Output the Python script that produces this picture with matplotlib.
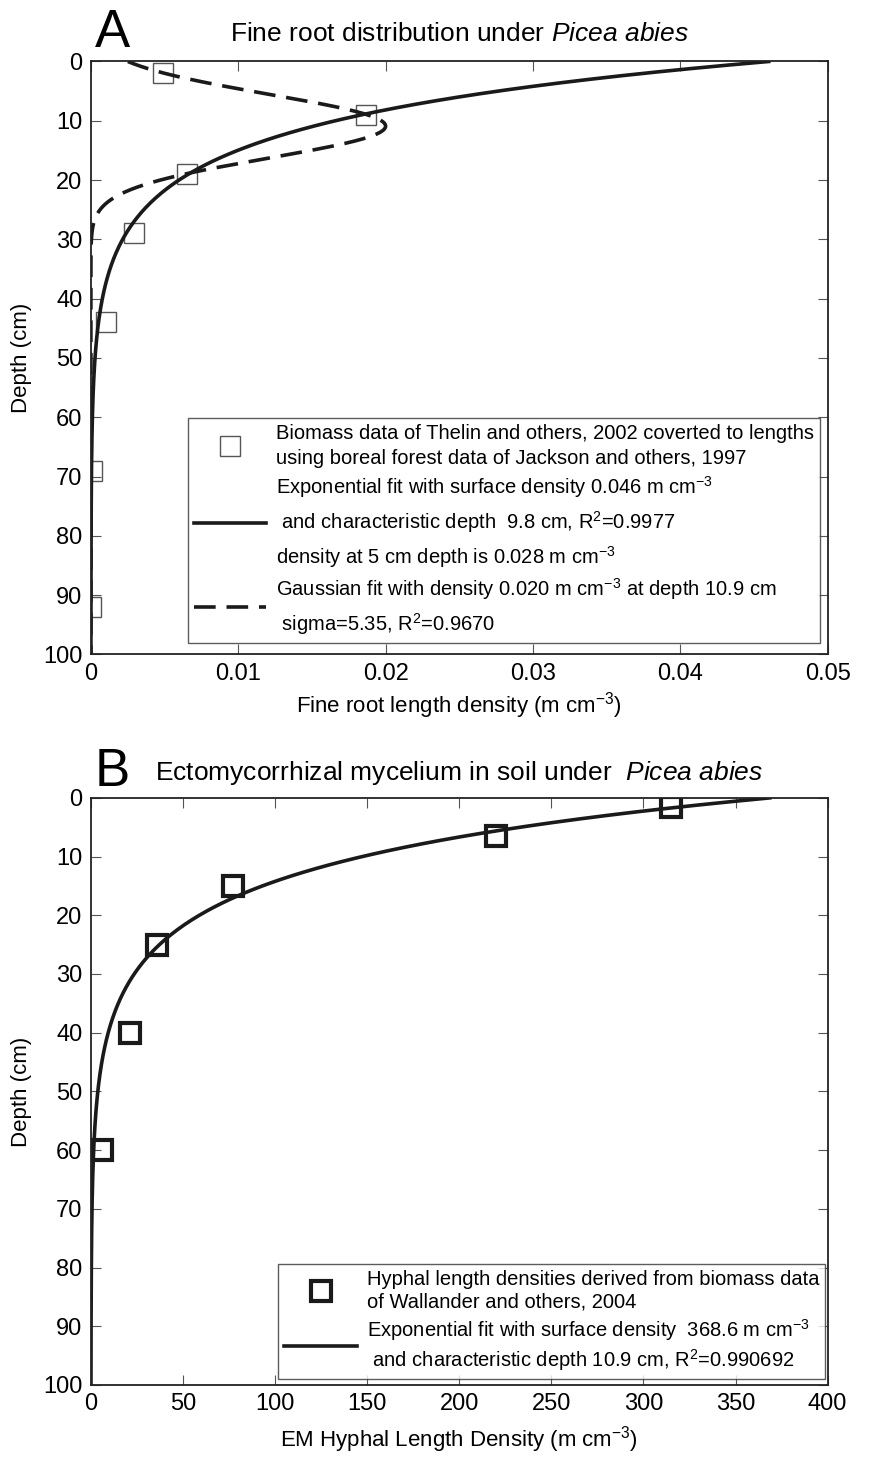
import numpy as np
import matplotlib
matplotlib.use("Agg")
import matplotlib.pyplot as plt

plt.rcParams['font.family'] = ['Liberation Sans', 'DejaVu Sans']
plt.rcParams['mathtext.fontset'] = 'custom'
plt.rcParams['mathtext.rm'] = 'Liberation Sans'
plt.rcParams['mathtext.it'] = 'Liberation Sans:italic'

# panel A data (fine roots)
rootDepth = [2, 9, 19, 29, 44, 69, 92]
rootDensity = [0.0049, 0.0187, 0.0065, 0.0029, 0.001, 0.0001, 0.0]
# fit parameters as printed in the legend
expSurface = 0.046
expDepth = 9.8
gaussPeak = 0.020
gaussDepth = 10.9
gaussSigma = 5.35

# panel B data (EM hyphae)
hyphDepth = [1.5, 6.5, 15, 25, 40, 60]
hyphDensity = [315, 220, 77, 36, 21, 6]
hyphSurface = 368.6
hyphCharDepth = 10.9

rootTicks = [0, 0.01, 0.02, 0.03, 0.04, 0.05]
rootTickLabels = ["0", "0.01", "0.02", "0.03", "0.04", "0.05"]
hyphTicks = [0, 50, 100, 150, 200, 250, 300, 350, 400]
depthTicks = [0, 10, 20, 30, 40, 50, 60, 70, 80, 90, 100]

z = np.linspace(0, 100, 500)

fig = plt.figure(figsize=(8.74, 14.64), dpi=100)

def setupAxes(ax):
    ax.set_ylim(100, 0)
    ax.set_yticks(depthTicks)
    ax.tick_params(direction='in', top=True, right=True, labelsize=17,
                   length=7, width=0.8, color='#555555', pad=6)
    for sp in ax.spines.values():
        sp.set_linewidth(1.3)
        sp.set_color('#222222')
    ax.set_ylabel("Depth (cm)", fontsize=16, labelpad=8)

# ---- panel A
ax1 = fig.add_axes([0.104, 0.553, 0.843, 0.405])
setupAxes(ax1)
ax1.plot(rootDensity, rootDepth, linestyle='none', marker='s', markersize=15,
         markerfacecolor='none', markeredgecolor='#555555', markeredgewidth=1.0,
         label="Biomass data of Thelin and others, 2002 coverted to lengths\n"
               "using boreal forest data of Jackson and others, 1997")
ax1.plot(expSurface * np.exp(-z / expDepth), z, color='#1a1a1a', lw=2.6,
         label="Exponential fit with surface density 0.046 m cm$^{-3}$\n"
               " and characteristic depth  9.8 cm, R$^{2}$=0.9977\n"
               "density at 5 cm depth is 0.028 m cm$^{-3}$")
ax1.plot(gaussPeak * np.exp(-(z - gaussDepth) ** 2 / (2 * gaussSigma ** 2)), z,
         color='#1a1a1a', lw=2.6, dashes=(6, 3),
         label="Gaussian fit with density 0.020 m cm$^{-3}$ at depth 10.9 cm\n"
               " sigma=5.35, R$^{2}$=0.9670")
ax1.set_xlim(0, 0.05)
ax1.set_xticks(rootTicks)
ax1.set_xticklabels(rootTickLabels)
ax1.set_xlabel("Fine root length density (m cm$^{-3}$)", fontsize=16, labelpad=4)
ax1.set_title("Fine root distribution under $\\it{Picea\\ abies}$", fontsize=19, pad=15)
fig.text(0.108, 0.968, "A", fontsize=38)
leg = ax1.legend(loc='lower right', bbox_to_anchor=(0.99, 0.02), fontsize=14.5,
                 frameon=True, fancybox=False, edgecolor='#333333', handlelength=3.6,
                 borderpad=0.3, labelspacing=0.3, handletextpad=0.5, borderaxespad=0)
for t in leg.get_texts():
    t.set_linespacing(1.45)
leg.get_frame().set_linewidth(1.0)

# ---- panel B
ax2 = fig.add_axes([0.104, 0.054, 0.843, 0.401])
setupAxes(ax2)
ax2.plot(hyphDensity, hyphDepth, linestyle='none', marker='s', markersize=15,
         markerfacecolor='none', markeredgecolor='#1a1a1a', markeredgewidth=3.0,
         label="Hyphal length densities derived from biomass data\n"
               "of Wallander and others, 2004")
ax2.plot(hyphSurface * np.exp(-z / hyphCharDepth), z, color='#1a1a1a', lw=2.6,
         label="Exponential fit with surface density  368.6 m cm$^{-3}$\n"
               " and characteristic depth 10.9 cm, R$^{2}$=0.990692")
ax2.set_xlim(0, 400)
ax2.set_xticks(hyphTicks)
ax2.set_xlabel("EM Hyphal Length Density (m cm$^{-3}$)", fontsize=16, labelpad=6)
ax2.set_title("Ectomycorrhizal mycelium in soil under  $\\it{Picea\\ abies}$", fontsize=19, pad=13)
fig.text(0.108, 0.463, "B", fontsize=38)
leg2 = ax2.legend(loc='lower right', bbox_to_anchor=(0.997, 0.01), fontsize=14.5,
                  frameon=True, fancybox=False, edgecolor='#333333', handlelength=3.6,
                  borderpad=0.3, labelspacing=0.3, handletextpad=0.5, borderaxespad=0)
leg2.get_frame().set_linewidth(1.0)

fig.savefig("out.png", dpi=100)
